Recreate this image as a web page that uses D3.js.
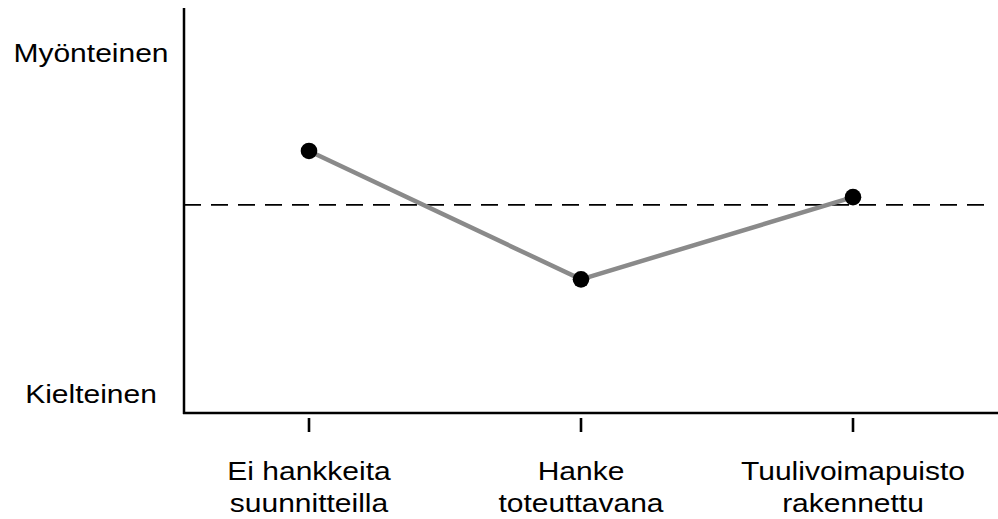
<!DOCTYPE html>
<html>
<head>
<meta charset="utf-8">
<script src="https://cdn.jsdelivr.net/npm/d3@7"></script>
<style>
  html, body { margin: 0; padding: 0; background: #fff; }
  svg { display: block; }
  text { font-family: "Liberation Sans", Arial, sans-serif; fill: #000; }
</style>
</head>
<body>
<svg id="chart" width="998" height="519"></svg>
<script>
// Data
const categories = [
  ["Ei hankkeita", "suunnitteilla"],
  ["Hanke", "toteuttavana"],
  ["Tuulivoimapuisto", "rakennettu"]
];
const values = [64.7, 33.0, 53.3];
const neutralValue = 51.4;
const yTickValues = [89, 4];
const yTickLabels = ["Myönteinen", "Kielteinen"];

const svg = d3.select("#chart");
const W = 998, H = 519;
const axisX = 184, axisTop = 8, axisBottom = 413;

const catKeys = categories.map(c => c.join(" "));
const x = d3.scalePoint().domain(catKeys).range([309, 853]);
const y = d3.scaleLinear().domain([0, 100]).range([axisBottom, axisBottom - 405]);

// Y axis line
svg.append("line")
  .attr("x1", axisX).attr("x2", axisX)
  .attr("y1", axisTop).attr("y2", axisBottom + 1)
  .attr("stroke", "#000").attr("stroke-width", 2.5);

// X axis line
svg.append("line")
  .attr("x1", axisX - 1).attr("x2", W)
  .attr("y1", axisBottom).attr("y2", axisBottom)
  .attr("stroke", "#000").attr("stroke-width", 2.5);

// X ticks (detached from axis)
svg.selectAll("line.xtick").data(catKeys).enter().append("line")
  .attr("class", "xtick")
  .attr("x1", d => x(d)).attr("x2", d => x(d))
  .attr("y1", 418).attr("y2", 432)
  .attr("stroke", "#000").attr("stroke-width", 2.6);

// X labels
const xl = svg.selectAll("g.xlabel").data(categories).enter().append("g")
  .attr("class", "xlabel")
  .attr("transform", (d, i) => `translate(${x(catKeys[i])},0)`);
xl.each(function(d) {
  const g = d3.select(this);
  d.forEach((line, j) => {
    g.append("text")
      .attr("text-anchor", "middle")
      .attr("font-size", 25)
      .attr("transform", `translate(0,${480 + j * 32}) scale(1.2,1)`)
      .text(line);
  });
});

// Y labels
svg.selectAll("text.ylabel").data(yTickValues).enter().append("text")
  .attr("class", "ylabel")
  .attr("text-anchor", "middle")
  .attr("font-size", 25)
  .attr("transform", (d, i) => `translate(91,${y(d) + (i === 0 ? 9 : 6)}) scale(1.2,1)`)
  .text((d, i) => yTickLabels[i]);

// Neutral dashed line
svg.append("line")
  .attr("x1", axisX).attr("x2", W - 8)
  .attr("y1", y(neutralValue)).attr("y2", y(neutralValue))
  .attr("stroke", "#000").attr("stroke-width", 1.6)
  .attr("stroke-dasharray", "17,10");

// Series line
const pts = values.map((v, i) => [x(catKeys[i]), y(v)]);
svg.append("path")
  .attr("d", d3.line()(pts))
  .attr("fill", "none")
  .attr("stroke", "#8a8a8a")
  .attr("stroke-width", 4.5);

// Points
svg.selectAll("circle").data(values).enter().append("circle")
  .attr("cx", (d, i) => x(catKeys[i]))
  .attr("cy", d => y(d))
  .attr("r", 8.3)
  .attr("fill", "#000");
</script>
</body>
</html>
